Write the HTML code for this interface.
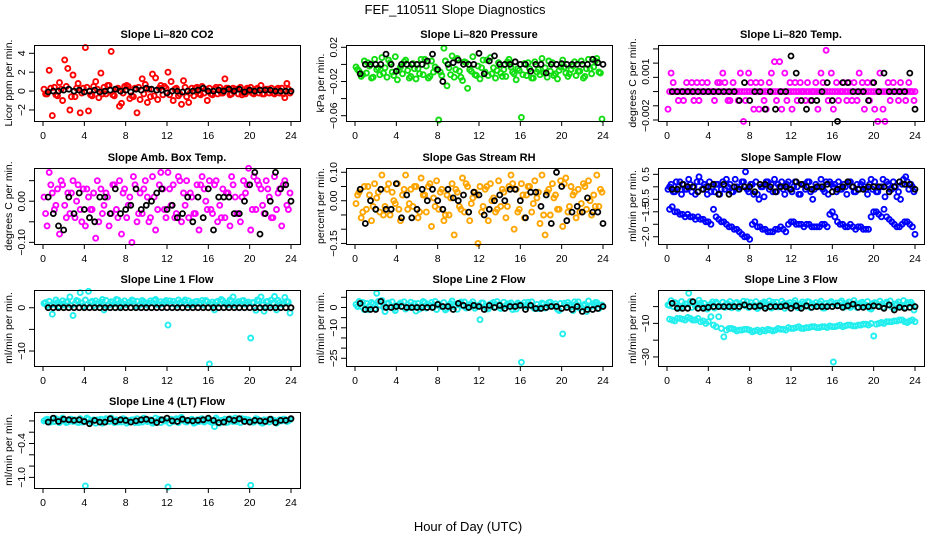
<!DOCTYPE html>
<html><head><meta charset="utf-8"><style>
html,body{margin:0;padding:0;background:#fff;}
svg{display:block;font-family:"Liberation Sans",Arial,sans-serif;}
</style></head><body>
<svg id="chart" width="936" height="540" viewBox="0 0 936 540" xmlns="http://www.w3.org/2000/svg">
<rect x="0" y="0" width="936" height="540" fill="#fff"/>
<text x="455" y="14" font-size="13" text-anchor="middle">FEF_110511  Slope Diagnostics</text>
<text x="468" y="531" font-size="13" text-anchor="middle">Hour of Day (UTC)</text>
</svg>
<script>
const hoursC=[0.1,0.4,0.6,0.9,1.1,1.4,1.6,1.9,2.1,2.4,2.6,2.9,3.1,3.4,3.6,3.9,4.1,4.4,4.6,4.9,5.1,5.4,5.6,5.9,6.1,6.4,6.6,6.9,7.1,7.4,7.6,7.9,8.1,8.4,8.6,8.9,9.1,9.4,9.6,9.9,10.1,10.4,10.6,10.9,11.1,11.4,11.6,11.9,12.1,12.4,12.6,12.9,13.1,13.4,13.6,13.9,14.1,14.4,14.6,14.9,15.1,15.4,15.6,15.9,16.1,16.4,16.6,16.9,17.1,17.4,17.6,17.9,18.1,18.4,18.6,18.9,19.1,19.4,19.6,19.9,20.1,20.4,20.6,20.9,21.1,21.4,21.6,21.9,22.1,22.4,22.6,22.9,23.1,23.4,23.6,23.9];
const hoursB=[0.5,1,1.5,2,2.5,3,3.5,4,4.5,5,5.5,6,6.5,7,7.5,8,8.5,9,9.5,10,10.5,11,11.5,12,12.5,13,13.5,14,14.5,15,15.5,16,16.5,17,17.5,18,18.5,19,19.5,20,20.5,21,21.5,22,22.5,23,23.5,24];
const hoursD=[0.25,0.75,1.25,1.75,2.25,2.75,3.25,3.75,4.25,4.75,5.25,5.75,6.25,6.75,7.25,7.75,8.25,8.75,9.25,9.75,10.25,10.75,11.25,11.75,12.25,12.75,13.25,13.75,14.25,14.75,15.25,15.75,16.25,16.75,17.25,17.75,18.25,18.75,19.25,19.75,20.25,20.75,21.25,21.75,22.25,22.75,23.25,23.75];
const xTicks=[0,4,8,12,16,20,24];

const co2Colored=[0.2,-0.3,2.2,-2.6,0.4,-0.5,0.9,-1.0,3.3,2.4,-2.0,1.7,-0.6,0.8,-2.3,0.3,4.6,-2.1,-0.4,0.5,1.0,-0.7,1.9,0.4,-0.3,0.6,4.2,-0.5,0.2,-1.6,-1.3,0.5,0.6,-0.8,-0.5,0.3,-2.3,-0.9,1.3,0.7,-1.2,-0.6,1.8,1.4,-0.9,0.6,-0.4,0.3,2.0,1.0,-1.0,0.3,-0.5,-1.4,1.1,-0.6,-1.2,0.3,-0.5,0.4,-0.3,0.5,-0.2,-1.0,0.3,-0.4,0.2,-0.3,0.4,-0.2,1.3,0.3,-0.4,0.3,0.2,-0.3,0.4,-0.2,-0.3,0.2,0.4,-0.3,0.2,-0.2,0.6,-0.3,0.2,-0.2,0.3,-0.3,0.2,-0.2,0.3,-0.7,0.8,-0.2];
const co2Extra=[-0.3,0.3,-0.4,0.2,0.5,-0.6,0.3,-0.2,0.4,-0.5,0.2,-0.3,0.6,-0.4,0.3,-0.2,0.5,-0.6,0.4,-0.3,0.2,-0.5,0.3,0.5,-0.4,0.2,-0.3,0.4,-0.2,0.3,-0.4,0.2,-0.3,0.4,-0.2,0.3,-0.3,0.2,-0.4,0.3,-0.2,0.3,-0.3,0.2,-0.2,0.3,-0.3,0.2];
const co2Black=[-0.1,0,0,0.1,0.2,0,0.1,-0.1,0,0.1,-0.1,0,0.1,0.2,0,0.1,-0.1,0.2,0.1,0.3,0.2,0.1,0.1,-0.2,0,0,-0.1,0,0,0.1,0.3,0,0,0.1,0,0.2,0,0.2,-0.1,0.1,0,0.1,0.1,0.1,0,0,0,0];
const pressColored=[-0.003,-0.008,-0.014,0.004,-0.010,-0.002,-0.016,0.006,-0.006,-0.012,0.008,-0.004,-0.015,0.002,-0.009,0.009,-0.018,-0.003,-0.011,0.005,-0.007,-0.014,0.001,-0.017,-0.005,0.006,-0.012,-0.002,-0.016,0.004,-0.009,-0.006,-0.065,-0.013,0.019,-0.025,-0.004,0.010,-0.015,0.007,-0.008,-0.019,0.003,-0.028,-0.006,0.009,-0.012,-0.002,-0.017,0.005,-0.009,-0.013,0.008,-0.004,-0.016,0.002,-0.010,-0.006,-0.014,0.006,-0.003,-0.011,-0.018,-0.007,-0.062,0.001,-0.013,-0.005,-0.016,0.003,-0.009,-0.012,0.007,-0.004,-0.015,-0.008,0.002,-0.011,-0.017,-0.003,0.005,-0.010,-0.014,-0.006,-0.002,-0.013,-0.008,0.004,-0.016,-0.005,0.006,-0.011,-0.003,0.007,-0.009,-0.064];
const pressExtra=[-0.006,-0.012,0.002,-0.015,-0.004,-0.010,0.005,-0.013,-0.007,0.003,-0.016,-0.005,-0.011,0.006,-0.014,-0.003,-0.009,0.004,-0.012,-0.006,-0.015,0.002,-0.008,-0.013,-0.004,0.005,-0.011,-0.007,-0.014,0.003,-0.009,-0.005,-0.012,0.002,-0.016,-0.006,-0.010,0.004,-0.013,-0.007,-0.003,-0.011,0.003,-0.008,-0.014,-0.005,0.004,-0.010];
const pressBlack=[-0.011,0,0,0,0,0.012,0,-0.008,0,0,0,0,0,0.004,0.012,-0.006,-0.020,0,0.002,0.005,0,0,0,0.013,-0.011,0.004,0.010,0,0,0,0.003,0,0,-0.008,0,0,-0.010,0,0,0.001,0,0,0,0,0,0.006,0.002,0];
const tempColored=[-0.00124,0.0013,0.00063,0,-0.00063,0,-0.00063,0.00063,0,0.00063,-0.00063,0.00063,-0.00063,0.00063,0,0.00063,0,0,-0.00063,0.00063,0.00063,0.0013,0.00063,-0.00063,-0.00063,0.00063,0,-0.00063,0.0013,-0.0021,-0.00063,0.0013,0.00063,-0.00124,0.00063,-0.00124,0.00063,-0.00063,-0.00124,0.00063,0.0013,0.0021,-0.00063,0.0021,-0.00124,0.0013,-0.00063,0.00063,-0.00124,0.00063,-0.00063,0.00063,0,-0.00063,0.00063,-0.00063,0,0.00063,-0.00124,0.0013,0.00063,0.0029,-0.00063,0.0013,-0.00124,0.00063,-0.00063,0,0.00063,-0.00063,0.00063,-0.00063,0.00063,-0.00063,0.0013,0.00063,-0.00124,0.00063,-0.00063,0.00063,-0.00124,-0.0021,0.0013,-0.00124,-0.0021,0.00063,-0.00063,0.00063,0,-0.00063,0.00063,0,-0.00063,0.00063,0,-0.00063];
const tempBand=[0,0,0,0,0,0,0,0,0,0,0,0,0,0,0,0,0,0,0,0,0,0,0,0,0,0,0,0,0,0,0,0,0,0,0,0,0,0,0,0,0,0,0,0,0,0,0,0];
const tempBlack=[0,0,0,0,0,0,0,0,0,0,0,0,0,-0.00063,0.00063,-0.00063,0,0,-0.00124,0,-0.00124,0,0,0.0025,0.0013,-0.00063,-0.00124,-0.00063,-0.00063,0,0.00063,-0.00063,-0.0021,0.00063,0.00063,0,0,0,-0.00063,0.00063,0,0.0013,0,0,0,0,0.0013,-0.00124];
const ambColored=[0.01,-0.06,0.07,0.02,-0.02,0.03,-0.08,0.04,-0.01,0.02,-0.03,0.05,-0.04,0.04,-0.02,0.03,-0.06,0.01,-0.02,0.02,-0.09,-0.05,0.03,-0.01,0.02,-0.06,-0.03,0.04,-0.02,0.05,-0.08,0.03,-0.04,0.01,-0.10,0.04,-0.05,0.02,-0.03,0.05,0.01,-0.04,0.06,-0.07,-0.02,0.07,0.03,-0.04,0.07,-0.01,0.04,-0.03,0.06,-0.05,0.02,0.05,-0.04,0.01,-0.03,0.04,-0.07,0.06,0.03,-0.02,0.05,-0.03,0.04,-0.05,-0.01,0.03,-0.04,0.02,-0.06,0.04,0.01,-0.03,-0.05,0.05,0.02,0.08,-0.07,0.06,-0.02,0.04,0.03,-0.03,0.05,0.01,-0.04,0.06,-0.02,0.03,-0.06,0.05,-0.01,0.02];
const ambExtra=[-0.03,0.04,-0.01,0.05,-0.04,0.02,0.00,-0.05,0.03,-0.02,0.05,-0.03,0.01,0.04,-0.04,0.02,-0.01,0.06,-0.03,0.03,-0.05,0.01,0.04,-0.02,0.03,-0.04,0.05,-0.01,0.02,-0.03,0.04,0.00,-0.02,0.05,-0.04,0.02,0.06,-0.03,0.01,0.04,-0.02,0.05,-0.01,0.03,-0.04,0.02,0.04,-0.02];
const ambBlack=[0.01,-0.03,-0.06,-0.07,0.01,-0.03,0.02,-0.02,-0.04,-0.05,0.01,0.01,-0.03,0.03,-0.03,-0.02,-0.01,0.03,-0.02,-0.01,0.00,0.02,0.03,-0.02,-0.01,-0.04,-0.03,0.01,-0.05,0.01,-0.04,0.03,-0.07,0.01,0.01,0.01,-0.03,-0.03,0.00,0.04,0.07,-0.08,-0.03,0.00,0.07,0.03,0.04,0.00];
const rhColored=[-0.01,0.03,-0.06,0.05,-0.03,0.02,-0.07,0.06,0.01,-0.04,0.09,-0.02,0.04,-0.05,0.03,-0.01,0.06,-0.07,0.02,0.09,-0.03,0.04,-0.02,0.05,-0.06,0.08,0.02,-0.04,0.05,-0.09,0.01,0.07,-0.03,0.04,-0.07,0.02,-0.05,0.06,-0.12,0.03,-0.02,0.08,-0.04,0.05,-0.07,0.01,0.03,-0.15,0.05,-0.02,0.04,-0.07,0.06,0.01,-0.04,0.07,-0.02,0.03,-0.06,0.05,0.09,-0.10,0.04,-0.03,0.06,-0.06,0.02,0.05,-0.04,0.07,0.01,-0.08,0.09,-0.12,0.03,-0.05,0.06,0.02,-0.03,0.07,-0.09,0.08,-0.04,0.05,0.02,-0.06,0.04,-0.01,0.06,-0.03,0.07,-0.05,0.02,0.09,-0.02,0.03];
const rhExtra=[0.02,-0.04,0.05,-0.02,0.03,-0.05,0.06,0.00,-0.03,0.04,-0.01,0.05,-0.04,0.02,0.06,-0.02,0.03,-0.05,0.01,0.04,-0.03,0.06,-0.01,0.02,-0.04,0.05,0.00,-0.03,0.04,-0.02,0.06,-0.04,0.02,0.05,-0.01,0.03,-0.05,0.04,0.01,-0.03,0.06,-0.02,0.03,-0.04,0.05,0.00,-0.02,0.04];
const rhBlack=[0.04,-0.08,0.00,-0.03,0.04,-0.03,-0.03,0.06,-0.06,0.02,-0.06,-0.03,0.04,0.00,0.04,0.00,-0.03,0.04,0.01,0.00,0.02,-0.04,0.03,0.02,-0.05,-0.03,0.00,0.02,0.00,0.04,0.04,0.00,-0.06,0.03,0.03,-0.02,0.02,-0.08,0.10,0.05,-0.07,-0.04,-0.02,-0.04,0.01,-0.04,-0.04,-0.08];
const sampleColored=[-0.1,0.1,-0.2,0.2,0.0,-0.3,0.1,-0.1,0.3,-0.2,0.0,0.2,0.4,-0.1,0.1,-0.3,0.2,0.0,-0.2,0.1,-0.3,0.2,-0.1,0.0,0.1,-0.2,0.3,-0.1,0.0,0.2,0.6,-0.2,0.1,-0.3,0.2,-0.5,0.0,-0.4,0.2,-0.1,0.1,0.3,-0.2,0.0,0.2,-0.3,0.1,-0.1,-0.2,0.2,0.0,-0.3,0.1,-0.1,0.2,-0.2,-0.5,0.1,0.0,0.3,-0.1,0.2,-0.3,0.1,0.0,-0.2,0.2,-0.1,0.1,-0.3,0.2,0.0,-0.2,0.1,-0.1,0.2,0.0,-0.3,0.1,-0.1,0.2,-0.2,0.0,0.3,-0.4,0.1,-0.1,0.2,0.0,-0.2,-0.5,0.3,0.4,-0.1,0.1,-0.2];
const sampleExtra=[0.0,-0.2,0.2,-0.1,0.1,-0.3,0.2,0.0,-0.2,0.1,-0.1,0.3,-0.2,0.0,0.2,-0.1,0.1,-0.3,0.0,0.2,-0.2,0.1,-0.1,0.2,0.0,-0.3,0.1,0.2,-0.1,0.0,-0.2,0.2,0.1,-0.1,0.0,0.2,-0.2,0.1,-0.1,0.3,-0.2,0.0,0.2,-0.1,-0.4,0.1,0.2,0.0];
const sampleLower=[-0.8,-1.0,-1.1,-1.1,-1.2,-1.2,-1.3,-1.4,-0.9,-1.3,-1.4,-1.6,-1.7,-1.8,-2.0,-2.1,-1.4,-1.6,-1.7,-1.8,-1.7,-1.6,-1.8,-1.4,-1.5,-1.5,-1.5,-1.6,-1.6,-1.5,-1.6,-1.0,-1.4,-1.5,-1.6,-1.6,-1.6,-1.7,-1.7,-1.0,-1.1,-0.9,-1.3,-1.5,-1.6,-1.4,-1.5,-1.9];
const sampleLower2=[-0.9,-1.0,-1.1,-1.2,-1.2,-1.3,-1.3,-1.4,-1.5,-1.2,-1.4,-1.5,-1.6,-1.7,-1.9,-2.0,-1.5,-1.6,-1.7,-1.8,-1.8,-1.7,-1.7,-1.5,-1.4,-1.5,-1.6,-1.5,-1.6,-1.6,-1.5,-1.1,-1.2,-1.5,-1.6,-1.5,-1.7,-1.6,-1.7,-1.2,-1.0,-1.2,-1.2,-1.4,-1.6,-1.5,-1.4,-1.6];
const sampleBlack=[-0.1,-0.1,0.1,0.0,0.0,-0.2,-0.1,0.0,0.1,-0.3,0.1,-0.3,0.0,-0.1,0.0,0.0,-0.2,0.1,0.1,0.0,-0.2,0.0,0.0,-0.1,0.2,0.1,0.0,-0.1,0.0,0.0,0.1,-0.2,-0.1,0.0,0.2,0.0,-0.1,-0.1,0.0,0.0,0.0,0.0,-0.2,0.0,0.2,0.1,0.1,-0.1];
const line1Colored=[1.0,0.5,1.5,-1.5,0.8,1.2,0.3,1.6,0.6,1.3,2.5,-1.8,0.9,1.5,3.5,0.4,1.8,3.8,1.2,0.5,1.6,0.8,1.3,-0.5,1.7,0.6,1.4,0.9,1.9,0.4,1.2,1.6,0.7,1.3,1.8,0.5,1.5,0.8,1.7,1.1,0.6,1.6,1.2,1.9,0.7,1.4,1.0,1.7,-4.0,0.9,1.5,0.6,1.8,1.1,1.4,0.7,1.6,1.2,0.8,1.5,1.0,1.7,0.6,1.4,-13.0,1.3,-0.5,1.5,0.9,1.6,1.2,0.7,1.8,2.5,0.6,1.4,1.0,1.7,0.8,1.3,-7.0,1.2,-0.6,1.6,2.5,-0.8,1.4,0.5,1.8,2.6,-0.5,1.2,0.8,2.4,1.5,-1.2];
const line1Extra=[1.2,0.6,1.8,0.9,1.4,0.5,1.7,1.1,0.7,1.5,1.0,1.9,0.6,1.3,1.8,0.8,1.2,1.6,0.5,1.4,1.0,1.7,0.7,1.3,1.6,0.9,1.2,1.8,0.6,1.4,1.1,1.7,0.8,1.3,1.9,0.7,1.5,1.0,1.6,0.9,1.2,1.8,0.6,1.5,1.1,1.7,0.9,1.3];
const line1Black=[0,0,0,0,0,0,0,0,0,0,0,0,0,0,0,0,0,0,0,0,0,0,0,0,0,0,0,0,0,0,0,0,0,0,0,0,0,0,0,0,0,0,0,0,0,0,0,0];
const line2Colored=[1.5,3.0,0.5,-1.0,2.0,0.8,2.5,-0.5,7.0,1.2,3.5,-2.0,1.8,0.2,2.8,-1.5,1.0,2.2,0.5,-0.8,1.5,2.6,0.3,-1.8,2.0,0.7,3.0,-0.3,1.4,2.5,0.2,-1.0,1.8,0.6,2.4,-0.6,1.2,3.2,0.4,-0.9,2.1,0.8,2.7,0.0,1.5,2.8,-0.4,1.0,-6.0,2.2,0.6,-0.7,1.8,2.5,0.3,1.3,-0.5,2.6,0.9,1.7,2.3,0.2,-0.8,1.6,-27.0,2.4,0.5,1.2,2.8,-0.6,1.5,0.4,2.2,-0.3,1.3,2.6,0.7,1.8,-0.9,2.0,-13.0,1.1,2.5,0.3,-1.5,1.6,2.8,0.2,1.0,-2.0,3.2,0.6,1.8,2.4,-0.5,1.2];
const line2Extra=[0.5,2.5,-1.0,1.8,3.0,0.2,2.2,-0.5,1.4,2.8,0.0,1.9,-0.8,2.4,1.0,3.0,0.4,-1.2,2.0,1.2,2.7,-0.3,1.6,0.6,2.3,-0.7,1.5,2.9,0.3,1.8,-1.0,2.2,1.0,2.6,0.1,-0.6,1.7,2.4,0.8,-1.5,2.1,1.3,2.8,-0.4,1.6,0.5,2.5,1.1];
const line2Black=[2,-1,-1,-1,3,0,0,0.5,0.5,0,0,0,0,0,0,1.5,0.5,0.5,-1,2,1,0,1,0.5,-1,1,0,1,-0.5,0.5,0.5,1,-1,1,-0.5,-0.5,0,0.5,0.5,-0.5,0,-1,0.5,-2,-1,-1,-0.5,0.5];
const line3Colored=[1.0,3.5,0.0,2.0,-1.0,3.0,0.5,1.5,8.0,-0.5,2.5,1.0,3.8,0.2,2.0,-1.5,1.0,2.8,-0.8,1.8,0.4,2.6,-0.5,1.5,3.0,0.2,2.2,-1.0,1.6,3.2,0.4,-0.6,2.4,1.0,3.0,-0.3,1.8,2.8,0.2,3.4,-0.8,1.2,2.6,0.5,3.2,-1.0,1.8,2.4,0.6,3.6,-0.5,1.4,2.8,0.2,3.0,-0.6,1.6,2.4,0.4,3.2,-0.8,2.0,1.0,3.0,-33.0,2.2,0.6,3.4,-0.4,1.8,2.8,0.3,3.6,-0.6,1.5,2.6,0.4,3.0,-1.0,1.8,2.4,0.6,3.2,-0.5,2.0,1.0,3.4,-0.8,1.6,2.8,0.2,3.6,-0.4,1.8,2.6,-2.0];
const line3Extra=[0.6,2.4,-0.9,1.7,3.1,0.3,2.1,-0.4,1.5,2.7,0.1,1.8,-0.7,2.5,1.1,2.9,0.5,-1.1,2.1,1.3,2.6,-0.2,1.7,0.7,2.2,-0.6,1.6,2.8,0.4,1.9,-0.9,2.3,1.1,2.5,0.2,-0.5,1.8,2.3,0.9,-1.4,2.0,1.4,2.7,-0.3,1.7,0.6,2.4,1.2];
const line3Lower=[-8,-7,-7.5,-6.5,-8,-7,-8.5,-9,-11,-6,-18,-13,-13.5,-14,-13.5,-14,-14.5,-15,-14.5,-14,-14,-13.5,-14,-13,-12.5,-13,-12.5,-12,-12.5,-12,-12.5,-12,-11.5,-12,-11,-11.5,-11,-10.5,-11,-17.5,-10,-10,-9,-8.5,-8,-9,-8.5,-9];
const line3Lower2=[-7.5,-8.5,-7,-8,-7,-8,-9,-10,-6,-12,-13,-14,-13,-14.5,-14,-13.5,-15,-14,-14,-13.5,-14.5,-13,-13.5,-12.5,-13,-12,-13,-12.5,-12,-12.5,-12,-11.5,-12,-11,-11.5,-11,-11.5,-11,-10.5,-10,-10.5,-9.5,-9,-9,-8.5,-8,-9.5,-8];
const line3Black=[2,-1,-1,-1,3,-1,-1,-0.5,0,0,0,0,0,0,1,0,0,0.5,-1,0,0,0,0.5,-1,0.5,-1,0.5,-0.5,0,0,0,0,0.5,-0.5,0.5,1.5,-0.5,-0.5,0,0.5,0,-1,1,-2,-0.5,-1,-0.5,0];
const line4Colored=[0.0,0.03,-0.02,0.04,-0.01,0.02,-0.03,0.05,0.01,-0.02,0.03,-0.01,0.02,-0.03,0.04,-0.02,-1.15,0.03,-0.01,0.02,-0.04,0.01,0.03,-0.02,0.04,-0.01,0.05,-0.03,0.02,0.00,-0.02,0.03,-0.04,0.01,0.02,-0.03,0.04,0.00,-0.02,0.03,-0.01,0.02,-0.04,0.05,0.01,-0.03,0.02,0.00,-1.17,0.03,-0.01,0.04,-0.03,0.06,0.02,-0.02,0.01,0.03,-0.04,0.02,-0.01,0.04,-0.02,0.03,0.00,-0.03,-0.10,0.02,-0.04,0.01,0.03,-0.02,0.04,-0.01,0.05,0.02,-0.03,0.01,0.03,0.02,-1.14,-0.02,0.04,0.01,-0.03,0.02,0.00,-0.02,0.03,0.01,-0.04,0.02,0.00,0.03,-0.01,0.02];
const line4Extra=[0.02,-0.02,0.04,0.00,-0.03,0.03,0.01,-0.02,0.05,-0.01,0.02,-0.04,0.03,0.00,-0.02,0.04,-0.01,0.02,-0.03,0.05,0.01,-0.02,0.03,0.00,-0.04,0.02,0.04,-0.01,0.01,-0.03,0.03,0.00,-0.02,0.05,0.01,-0.03,0.02,-0.01,0.04,0.00,-0.02,0.03,-0.04,0.02,0.01,-0.01,0.03,0.00];
const line4Black=[-0.02,0.05,-0.01,0.03,0.02,0.01,0.02,-0.01,-0.05,0.01,-0.02,-0.02,0.04,-0.01,0.02,0.01,-0.02,0.00,0.02,0.03,0.01,-0.03,0.02,0.05,0.00,-0.01,0.03,0.01,0.00,0.01,0.02,0.05,0.01,-0.03,-0.02,0.03,0.01,0.04,-0.01,-0.02,0.01,0.00,-0.01,0.03,-0.03,0.01,0.01,0.04];

const NS="http://www.w3.org/2000/svg";
const svg=document.getElementById('chart');
const colLeft=[34,346,658], rowTop=[45,168,290,412], boxW=266, boxH=76;

const panels=[
 {name:'co2',title:'Slope Li\u2013820 CO2',ylab:'Licor ppm per min.',col:0,row:0,ylim:[-3.17,4.88],ticks:[-2,0,2,4],labels:[[-2,'\u22122'],[0,'0'],[2,'2'],[4,'4']],color:'#ff0000',series:[[hoursC,co2Colored],[hoursD,co2Extra]],black:co2Black},
 {name:'pressure',title:'Slope Li\u2013820 Pressure',ylab:'kPa per min.',col:1,row:0,ylim:[-0.0662,0.0227],ticks:[0.02,0,-0.02,-0.04,-0.06],labels:[[0.02,'0.02'],[-0.02,'\u22120.02'],[-0.06,'\u22120.06']],color:'#11dd11',series:[[hoursC,pressColored],[hoursD,pressExtra]],black:pressBlack},
 {name:'temp',title:'Slope Li\u2013820 Temp.',ylab:'degrees C per min.',col:2,row:0,ylim:[-0.00207,0.003275],ticks:[0.003,0.002,0.001,0,-0.001,-0.002],labels:[[0.0014,'0.001'],[-0.0017,'\u22120.002']],color:'#ff00ff',series:[[hoursB,tempBand],[hoursD,tempBand],[hoursC,tempColored]],black:tempBlack},
 {name:'amb-box-temp',title:'Slope Amb. Box Temp.',ylab:'degrees C per min.',col:0,row:1,ylim:[-0.104,0.0808],ticks:[0.05,0,-0.05,-0.1],labels:[[0,'0.00'],[-0.1,'\u22120.10']],color:'#ff00ff',series:[[hoursC,ambColored],[hoursD,ambExtra]],black:ambBlack},
 {name:'gas-stream-rh',title:'Slope Gas Stream RH',ylab:'percent per min.',col:1,row:1,ylim:[-0.152,0.115],ticks:[0.1,0.05,0,-0.05,-0.1,-0.15],labels:[[0.1,'0.10'],[0,'0.00'],[-0.15,'\u22120.15']],color:'#ffa500',series:[[hoursC,rhColored],[hoursD,rhExtra]],black:rhBlack},
 {name:'sample-flow',title:'Slope Sample Flow',ylab:'ml/min per min.',col:2,row:1,ylim:[-2.29,0.754],ticks:[0.5,0,-0.5,-1,-1.5,-2],labels:[[0.5,'0.5'],[-0.5,'\u22120.5'],[-1.0,'\u22121.5'],[-2,'\u22122.0']],color:'#0000ff',series:[[hoursC,sampleColored],[hoursD,sampleExtra],[hoursB,sampleLower],[hoursD,sampleLower2]],black:sampleBlack},
 {name:'line1-flow',title:'Slope Line 1 Flow',ylab:'ml/min per min.',col:0,row:2,ylim:[-13.46,4.1],ticks:[0,-5,-10],labels:[[0,'0'],[-10,'\u221210']],color:'#22eeee',series:[[hoursC,line1Colored],[hoursD,line1Extra]],black:line1Black},
 {name:'line2-flow',title:'Slope Line 2 Flow',ylab:'ml/min per min.',col:1,row:2,ylim:[-28.8,8.6],ticks:[5,0,-5,-10,-15,-20,-25],labels:[[0,'0'],[-10,'\u221210'],[-25,'\u221225']],color:'#22eeee',series:[[hoursC,line2Colored],[hoursD,line2Extra]],black:line2Black},
 {name:'line3-flow',title:'Slope Line 3 Flow',ylab:'ml/min per min.',col:2,row:2,ylim:[-35.4,9.9],ticks:[0,-10,-20,-30],labels:[[-10,'\u221210'],[-30,'\u221230']],color:'#22eeee',series:[[hoursC,line3Colored],[hoursD,line3Extra],[hoursB,line3Lower],[hoursD,line3Lower2]],black:line3Black},
 {name:'line4-flow',title:'Slope Line 4 (LT) Flow',ylab:'ml/min per min.',col:0,row:3,ylim:[-1.188,0.158],ticks:[0,-0.2,-0.4,-0.6,-0.8,-1.0],labels:[[-0.4,'\u22120.4'],[-1.0,'\u22121.0']],color:'#22eeee',series:[[hoursC,line4Colored],[hoursD,line4Extra]],black:line4Black}
];

function mk(tag,attrs,parent){const e=document.createElementNS(NS,tag);for(const k in attrs)e.setAttribute(k,attrs[k]);(parent||svg).appendChild(e);return e;}

panels.forEach(p=>{
 const L=colLeft[p.col], T=rowTop[p.row], B=T+boxH;
 const xS=h=>L+9+h*(248/24);
 const yS=v=>T+(p.ylim[1]-v)/(p.ylim[1]-p.ylim[0])*boxH;
 const g=mk('g',{});
 
 
 const t=mk('text',{x:L+boxW/2,y:T-7,'font-size':11,'font-weight':'bold','text-anchor':'middle'},g);
 t.textContent=p.title;
 
 
 const yl=mk('text',{x:L-22,y:T+boxH/2,'font-size':10.5,'text-anchor':'middle',transform:`rotate(-90 ${L-22} ${T+boxH/2})`},g);
 yl.textContent=p.ylab;
 
 
 const pts=mk('g',{},g);
 
 
 p.series.forEach(([xs,ys])=>{
  const n=Math.min(xs.length,ys.length);
  for(let i=0;i<n;i++){
   const c=mk('circle',{cx:xS(xs[i]).toFixed(1),cy:yS(ys[i]).toFixed(1),r:2.5,fill:'none',stroke:p.color,'stroke-width':1.9},pts);
   
   
  }
 });
 const nb=Math.min(hoursB.length,p.black.length);
 for(let i=0;i<nb;i++){
  const c=mk('circle',{cx:xS(hoursB[i]).toFixed(1),cy:yS(p.black[i]).toFixed(1),r:2.5,fill:'none',stroke:'#000','stroke-width':1.8},pts);
  
  
 }
 const box=mk('rect',{x:L+0.5,y:T+0.5,width:boxW,height:boxH,fill:'none',stroke:'#000','stroke-width':1},g);
 
 
 xTicks.forEach(h=>{
  const x=xS(h);
  mk('line',{x1:x,x2:x,y1:B,y2:B+5,stroke:'#000'},g);
  const tl=mk('text',{x:x,y:B+18,'font-size':10.5,'text-anchor':'middle'},g);
  tl.textContent=String(h);
  
  
 });
 p.ticks.forEach(v=>{
  const y=yS(v);
  mk('line',{x1:L-5,x2:L,y1:y,y2:y,stroke:'#000'},g);
 });
 mk('line',{x1:L+0.5,x2:L+0.5,y1:yS(p.ticks[0]),y2:yS(p.ticks[p.ticks.length-1]),stroke:'#000'},g);
 p.labels.forEach(([v,s])=>{
  const y=yS(v), x=L-9;
  const tl=mk('text',{x:x,y:y,'font-size':10.5,'text-anchor':'middle',transform:`rotate(-90 ${x} ${y})`},g);
  tl.textContent=s;
  
  
 });
});
</script>
</body></html>
